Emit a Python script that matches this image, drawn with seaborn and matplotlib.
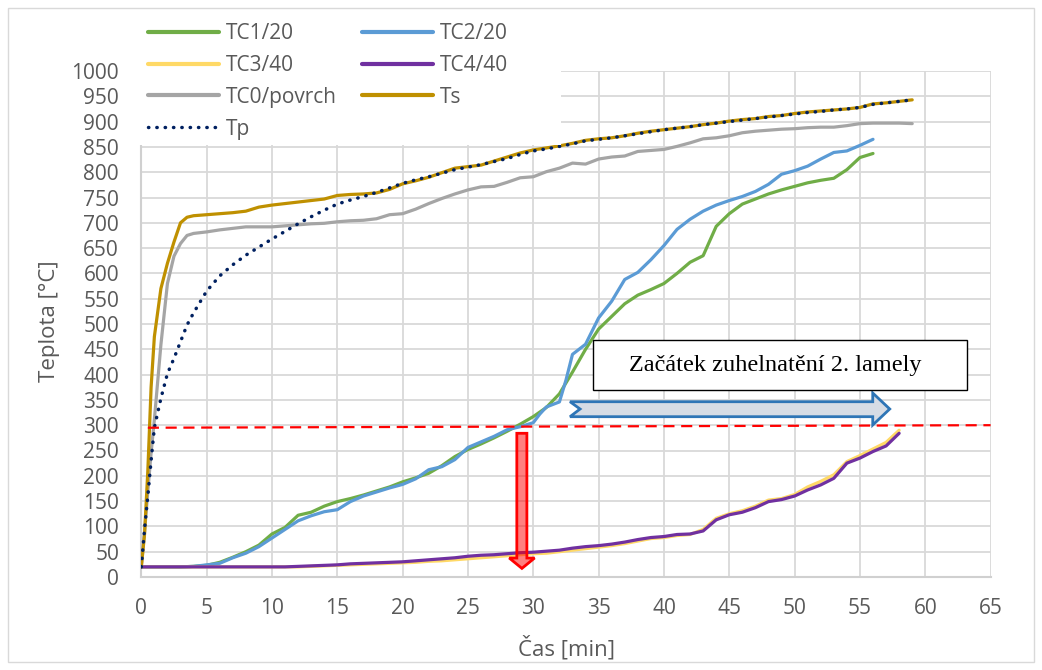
import matplotlib
matplotlib.use('Agg')
import matplotlib.pyplot as plt
import seaborn as sns
from matplotlib.patches import Rectangle, Polygon
from matplotlib.lines import Line2D

# --- data (time in min, temperature in degC) ---
cas_rychle = [0, 0.25, 0.5, 0.75, 1, 1.5, 2, 2.5, 3, 3.5, 4] + list(range(5, 60))
ts = [20, 85, 210, 375, 475, 570, 620, 662, 700, 711, 714,
      716, 718, 720, 723, 731, 735, 738, 741, 744, 747, 754, 756, 757, 759, 766,
      777, 783, 790, 799, 808, 811, 814, 822, 830, 838, 844, 848, 852, 857, 863,
      866, 868, 872, 877, 881, 884, 887, 890, 894, 897, 901, 904, 906, 910, 912,
      916, 919, 921, 923, 925, 928, 935, 937, 940, 943]
tc0 = [20, 90, 170, 245, 311, 459, 580, 634, 659, 675, 679,
       682, 686, 689, 692, 692, 692, 694, 696, 698, 699, 702, 704, 705, 708, 716,
       718, 727, 738, 748, 757, 765, 771, 772, 780, 789, 791, 801, 808, 818, 816,
       826, 830, 832, 841, 843, 845, 851, 858, 866, 868, 872, 878, 881, 883, 885,
       886, 888, 889, 889, 892, 896, 897, 897, 897, 896]
tp = [20, 95, 160, 230, 295, 353, 402, 432, 465, 498, 522,
      565, 595, 617, 636, 652, 668, 683, 698, 712, 725, 737, 745, 752, 760, 769,
      778, 785, 791, 798, 805, 810, 815, 821, 827, 835, 842, 846, 851, 856, 862,
      865, 868, 872, 876, 880, 884, 887, 890, 894, 897, 900, 903, 906, 909, 912,
      915, 918, 920, 923, 925, 928, 934, 937, 940, 943]

cas_tc1 = list(range(0, 57))
tc1 = [20, 20, 20, 20, 21, 23, 29, 39, 50, 63,
       85, 98, 122, 128, 140, 149, 155, 162, 170, 178,
       188, 196, 205, 220, 238, 252, 263, 275, 288, 302,
       317, 335, 362, 405, 450, 490, 515, 540, 557, 568,
       580, 600, 622, 635, 693, 718, 737, 747, 757, 765,
       772, 779, 784, 788, 805, 829, 837]

cas_tc2 = list(range(0, 31)) + [30.5, 31, 32, 32.5] + list(range(33, 57))
tc2 = [20, 20, 20, 20, 21, 24, 27, 38, 47, 60,
       77, 94, 111, 121, 129, 133, 149, 160, 168, 176,
       183, 194, 212, 218, 232, 256, 267, 278, 291, 297,
       305, 322, 336, 346, 389, 440, 460, 512, 545, 588, 602, 627,
       655, 687, 707, 723, 735, 744, 752, 762, 776, 796,
       803, 812, 826, 839, 842, 853, 865]

cas_tc34 = list(range(0, 59))
tc3 = [20, 20, 20, 20, 20, 20, 20, 20, 20, 20,
       20, 20, 20, 21, 22, 23, 24, 25, 26, 27,
       28, 29, 31, 32, 34, 36, 38, 40, 42, 44,
       46, 47, 50, 53, 56, 59, 62, 66, 71, 76,
       78, 82, 84, 94, 116, 125, 131, 140, 152, 155,
       163, 178, 189, 202, 228, 240, 253, 266, 290]
tc4 = [20, 20, 20, 20, 20, 20, 20, 20, 20, 20,
       20, 20, 21, 22, 23, 24, 26, 27, 28, 29,
       30, 32, 34, 36, 38, 41, 43, 44, 46, 48,
       49, 51, 53, 57, 60, 62, 65, 69, 74, 78,
       80, 84, 85, 91, 113, 123, 128, 137, 149, 153,
       160, 172, 182, 195, 225, 235, 248, 259, 284]

nazvy = ['TC1/20', 'TC2/20', 'TC3/40', 'TC4/40', 'TC0/povrch', 'Ts', 'Tp']
barvy = ['#70AD47', '#5B9BD5', '#FFD966', '#7030A0', '#A5A5A5', '#BF9000', '#002060']

# annotation shapes
hranice = [(0.5, 295), (65, 300)]
popisek = 'Začátek zuhelnatění 2. lamely'

sns.set_theme(style='white')
plt.rcParams['font.family'] = ['Open Sans', 'DejaVu Sans']

fig = plt.figure(figsize=(10.42, 6.70), dpi=100)
ax = fig.add_axes([141.3 / 1042, 93 / 670, 849.3 / 1042, 506 / 670])

serie = [(cas_tc1, tc1), (cas_tc2, tc2), (cas_tc34, tc3), (cas_tc34, tc4),
         (cas_rychle, tc0), (cas_rychle, ts)]
for (x, y), c in zip(serie, barvy[:6]):
    sns.lineplot(x=x, y=y, color=c, lw=2.3, ax=ax, legend=False, zorder=3)
sns.lineplot(x=cas_rychle, y=tp, color=barvy[6], lw=2.5, ax=ax, legend=False,
             linestyle=(0, (0.1, 2.3)), zorder=4)
ax.lines[-1].set_dash_capstyle('round')

ax.set_xlim(0, 65)
ax.set_ylim(0, 1000)
ax.set_xticks(range(0, 66, 5))
ax.set_yticks(range(0, 1001, 50))
ax.grid(True, color='#D9D9D9', lw=1.3)
ax.set_axisbelow(True)
for s in ['top', 'right']:
    ax.spines[s].set_visible(False)
for s in ['left', 'bottom']:
    ax.spines[s].set_color('#D0D0D0')
    ax.spines[s].set_linewidth(1.5)
ax.tick_params(axis='both', length=0, colors='#595959')
ax.tick_params(axis='y', pad=16, labelsize=15)
ax.tick_params(axis='x', pad=15, labelsize=15)
ax.set_xlabel('')
ax.set_ylabel('')

fig.text(50 / 1042, 1 - 321 / 670, 'Teplota [°C]', rotation=90, ha='center', va='center',
         fontsize=16, color='#595959')
fig.text(566 / 1042, 1 - 648 / 670, 'Čas [min]', ha='center', va='center',
         fontsize=16, color='#595959')

# red threshold line
ax.plot([hranice[0][0], hranice[1][0]], [hranice[0][1], hranice[1][1]], color='#FF0000',
        lw=1.6, ls=(0, (5, 3)), zorder=5)

# red down arrow
ax.add_patch(Polygon([(28.74, 284), (29.51, 284), (29.51, 37.5), (30.1, 37.5), (29.13, 17),
                      (28.16, 37.5), (28.74, 37.5)], closed=True, fc=(1, 0, 0, 0.5),
                     ec='#FF0000', lw=2, zorder=6))

# blue right arrow
ax.add_patch(Polygon([(32.81, 346.4), (55.98, 346.4), (55.98, 363.6), (57.28, 332),
                      (55.98, 300.4), (55.98, 316.8), (32.81, 316.8), (33.58, 332)],
                     closed=True, fc='#D6DCE5', ec='#2E75B6', lw=2, zorder=6))

# text box
ax.add_patch(Rectangle((34.55, 370), 28.65, 98, fc='white', ec='black', lw=1, zorder=7))
ax.text(48.55, 418, popisek, ha='center', va='center', fontsize=17.5,
        family=['Liberation Serif', 'DejaVu Serif'], color='black', zorder=8)

# white legend background over the grid
fig.patches.append(Rectangle((136 / 1042, 1 - 145 / 670), 425 / 1042, 133 / 670,
                             transform=fig.transFigure, fc='white', ec='none', zorder=1))
# chart frame
fig.patches.append(Rectangle((8 / 1042, 8 / 670), 1026 / 1042, 654 / 670,
                             transform=fig.transFigure, fc='none', ec='#D9D9D9', lw=1,
                             zorder=1))

styly = {'Tp': dict(ls=(0, (0.1, 2.3)), lw=2.5, dash_capstyle='round')}
handles = {}
for n, c in zip(nazvy, barvy):
    kw = styly.get(n, dict(lw=3))
    handles[n] = Line2D([0], [0], color=c, **kw)
poradi = ['TC1/20', 'TC3/40', 'TC0/povrch', 'Tp', 'TC2/20', 'TC4/40', 'Ts']
fig.legend([handles[n] for n in poradi], poradi, ncol=2, loc='upper left',
           bbox_to_anchor=(148 / 1042, 1 - 23 / 670), frameon=False, fontsize=15,
           labelcolor='#595959', handlelength=3.4, handletextpad=0.35,
           columnspacing=1.2, labelspacing=0.52, borderpad=0, borderaxespad=0)

fig.savefig('out.png', dpi=100)
